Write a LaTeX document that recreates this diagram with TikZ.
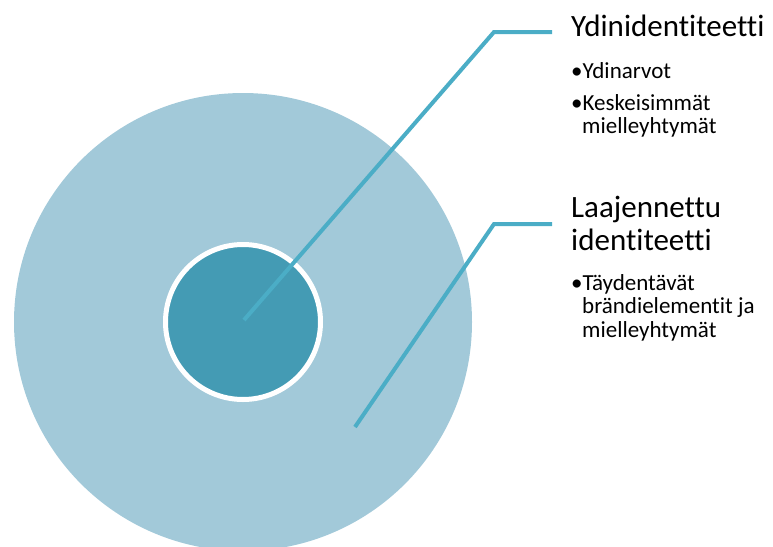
\documentclass[tikz,border=0pt]{standalone}
\usepackage{fontspec}
\setmainfont{Carlito}[Ligatures={NoCommon,NoRequired,NoContextual}]
\definecolor{outerc}{HTML}{A2C9D9}
\definecolor{innerc}{HTML}{449BB4}
\definecolor{linec}{HTML}{4BADC6}
\begin{document}
\begin{tikzpicture}[x=1pt,y=-1pt,
  conn/.style={draw=linec,line width=4pt},
  title/.style={anchor=base west,inner sep=0pt,font=\fontsize{31}{33}\selectfont},
  bul/.style={anchor=base west,inner sep=0pt,font=\fontsize{23}{24}\selectfont}]
\useasboundingbox (0,0) rectangle (773,546);
\begin{scope}
\clip (0,0) rectangle (773,546);
\fill[outerc] (243,322) circle (229);
\end{scope}
\fill[innerc] (243,322) circle (77.5);
\draw[white,line width=5pt] (243,322) circle (77.5);
\coordinate (s1) at (244,320);
\coordinate (k1) at (494,32);
\coordinate (e1) at (552,32);
\coordinate (s2) at (355,427);
\coordinate (k2) at (494,224);
\coordinate (e2) at (552,224);
\draw[conn] (s1) -- (k1) -- (e1);
\draw[conn] (s2) -- (k2) -- (e2);
\node[title] (t1) at (571,36) {Ydinidentiteetti};
\node[bul] (b1) at (571,78) {•Ydinarvot};
\node[bul] (b2) at (571,110) {•Keskeisimmät};
\node[bul] (b2b) at (582,133) {mielleyhtymät};
\node[title] (t2a) at (571,217) {Laajennettu};
\node[title] (t2b) at (571,250) {identiteetti};
\node[bul] (b3) at (571,290) {•Täydentävät};
\node[bul] (b3b) at (582,313) {brändielementit ja};
\node[bul] (b3c) at (582,337) {mielleyhtymät};
\end{tikzpicture}
\end{document}
